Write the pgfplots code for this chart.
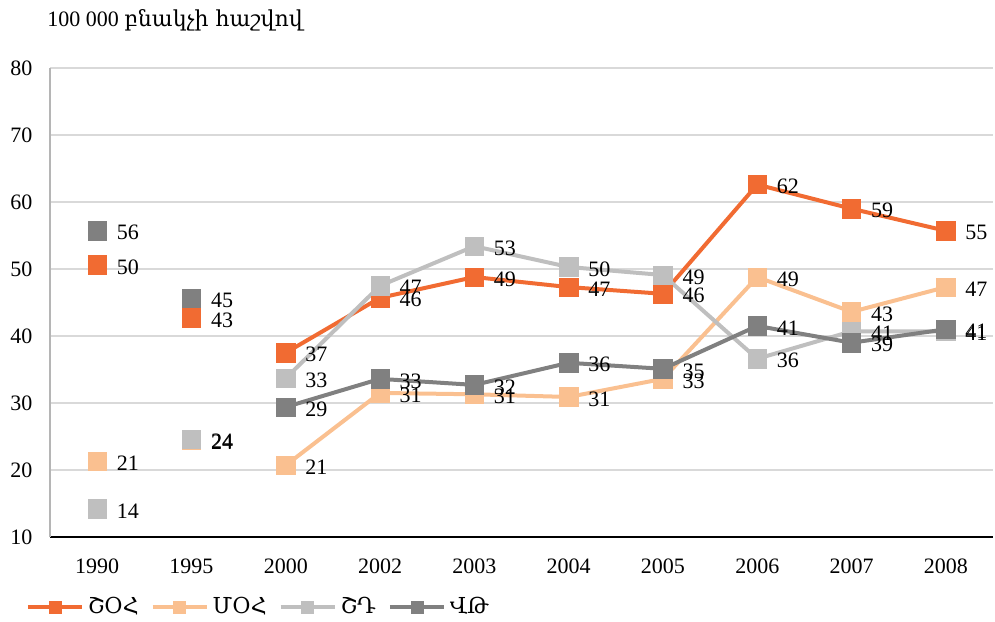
\documentclass[border=0pt]{standalone}
\usepackage{fontspec}
\setmainfont{Liberation Serif}
\newfontfamily\armfont{DejaVu Serif}
\usepackage{pgfplots}
\pgfplotsset{compat=1.18}
\definecolor{cA}{RGB}{241,107,50}
\definecolor{cB}{RGB}{250,192,144}
\definecolor{cC}{RGB}{191,191,191}
\definecolor{cD}{RGB}{128,128,128}
\definecolor{gridc}{RGB}{217,217,217}
\begin{document}
\fontsize{11}{13}\selectfont
\begin{tikzpicture}[x=1pt,y=1pt]
\path[use as bounding box] (0,0) rectangle (497.5,310.5);
\node[anchor=west,inner sep=0pt] at (23.5,300.5) {100 000 {\armfont բնակչի հաշվով}};
\begin{axis}[
  at={(25pt,42pt)}, anchor=south west,
  scale only axis, width=471.5pt, height=234.5pt,
  xmin=-0.5, xmax=9.5, ymin=10, ymax=80,
  xtick={0,...,9},
  xticklabels={1990,1995,2000,2002,2003,2004,2005,2006,2007,2008},
  minor xtick={0.5,1.5,...,8.5},
  ytick={10,20,...,80},
  ymajorgrids, grid style={gridc, line width=0.6pt},
  axis x line*=bottom, axis y line*=left,
  x axis line style={black, line width=0.6pt, -},
  y axis line style={gridc!60!gray, line width=0.6pt, -},
  xtick style={draw=none},
  minor tick length=3.5pt,
  minor x tick style={black, line width=0.5pt},
  tick align=inside,
  ytick style={draw=none},
  xticklabel style={yshift=-7pt},
  yticklabel style={xshift=-5pt},
  /pgf/number format/assume math mode=true,
  tick label style={font=\fontsize{11}{13}\selectfont},
  nodes near coords,
  point meta=explicit symbolic,
  every node near coord/.append style={anchor=west, xshift=6pt, yshift=-1pt, font=\fontsize{11}{13}\selectfont, text=black},
  every axis plot/.append style={mark=square*, mark size=4.6pt, mark options={solid, line width=0.3pt}},
  legend columns=4,
  legend style={at={(-0.026,-0.149)}, anchor=west, draw=none, fill=none, font=\fontsize{11}{13}\selectfont,
    inner xsep=0pt,
    /tikz/every even column/.append style={column sep=4pt}},
  legend image code/.code={\draw[#1, mark repeat=2, mark phase=2, mark size=3pt] plot coordinates {(0pt,0pt) (13.5pt,0pt) (27pt,0pt)};},
]
% ShOH
\addplot[cA, line width=2pt] coordinates {
 (2,37.5)[37] (3,45.7)[46] (4,48.8)[49] (5,47.3)[47] (6,46.3)[46] (7,62.6)[62] (8,59.0)[59] (9,55.7)[55]};
\addlegendentry{\armfont ՇՕՀ}
% MOH
\addplot[cB, line width=2pt] coordinates {
 (2,20.7)[21] (3,31.5)[31] (4,31.3)[31] (5,30.9)[31] (6,33.6)[33] (7,48.8)[49] (8,43.6)[43] (9,47.3)[47]};
\addlegendentry{\armfont ՄՕՀ}
% ShD
\addplot[cC, line width=2pt] coordinates {
 (2,33.7)[33] (3,47.5)[47] (4,53.4)[53] (5,50.3)[50] (6,49.1)[49] (7,36.6)[36] (8,40.7)[41] (9,40.7)[41]};
\addlegendentry{\armfont ՇԴ}
% VT
\addplot[cD, line width=2pt] coordinates {
 (2,29.4)[29] (3,33.6)[33] (4,32.7)[32] (5,36.0)[36] (6,35.1)[35] (7,41.5)[41] (8,39.0)[39] (9,41.0)[41]};
\addlegendentry{\armfont ՎԹ}
% isolated points
\addplot[cA, only marks, forget plot] coordinates {(0,50.6)[50] (1,42.7)[43]};
\addplot[cB, only marks, forget plot] coordinates {(0,21.3)[21] (1,24.4)[24]};
\addplot[cC, only marks, forget plot] coordinates {(0,14.2)[14] (1,24.6)[24]};
\addplot[cD, only marks, forget plot] coordinates {(0,55.7)[56] (1,45.6)[45]};
\end{axis}
\end{tikzpicture}
\end{document}
